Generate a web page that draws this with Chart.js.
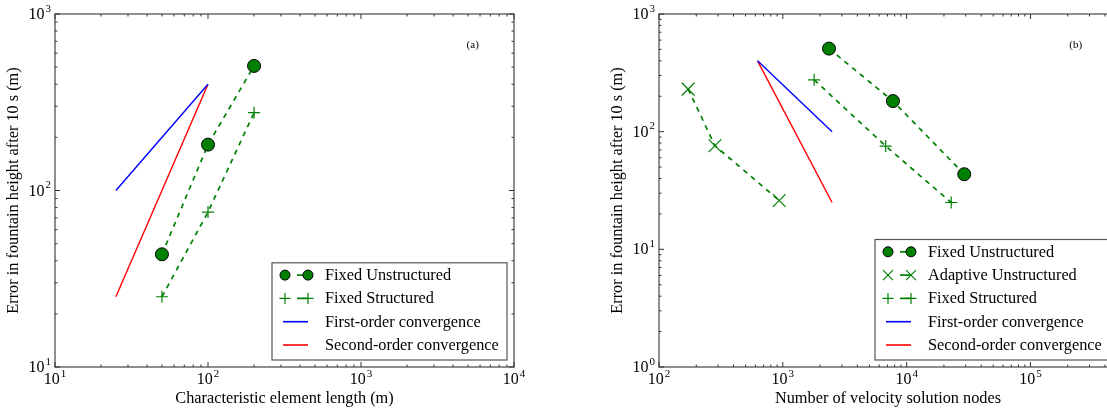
<!DOCTYPE html>
<html lang="en">
<head>
<meta charset="UTF-8">
<title>Fountain height error convergence</title>
<script src="https://cdn.jsdelivr.net/npm/chart.js"></script>
<style>
    html, body { margin: 0; padding: 0; background: #fff; overflow: hidden; }
    #wrap { position: relative; width: 1107px; height: 408px; overflow: hidden; }
    canvas { position: absolute; top: 0; }
    #panelA { left: 0; }
    #panelB { left: 560px; }
</style>
</head>
<body>
<div id="wrap">
    <canvas id="panelA" width="560" height="408"></canvas>
    <canvas id="panelB" width="570" height="408"></canvas>
</div>
<script>
// ---- panel (a): error vs characteristic element length ----
const lengthA = [50, 100, 200];
const fixedUnstructuredA = [43.5, 182, 508];
const fixedStructuredA = [25, 75.5, 276];
const refLengthA = [25, 100];
const firstOrderA = [100, 400];
const secondOrderA = [25, 400];
const xTicksA = [10, 100, 1000, 10000];
const yTicksA = [10, 100, 1000];

// ---- panel (b): error vs number of velocity nodes ----
const nodesUnstructuredB = [2360, 7750, 29200];
const fixedUnstructuredB = [508, 182, 43.5];
const nodesAdaptiveB = [172, 283, 935];
const adaptiveUnstructuredB = [230, 76, 26];
const nodesStructuredB = [1790, 6770, 22900];
const fixedStructuredB = [276, 75.5, 25];
const refNodesB = [625, 2500];
const firstOrderB = [400, 100];
const secondOrderB = [400, 25];
const xTicksB = [100, 1000, 10000, 100000];
const yTicksB = [1, 10, 100, 1000];

const SERIF = '"Liberation Serif", "DejaVu Serif", serif';
const GREEN = '#008000';
const TEXT_PX = 16.3;

function pts(xs, ys) {
    return xs.map((x, i) => ({ x: x, y: ys[i] }));
}

function markerSeries(label, xs, ys, style) {
    const ds = {
        label: label,
        data: pts(xs, ys),
        showLine: true,
        borderColor: GREEN,
        borderWidth: 1.7,
        borderDash: [5, 5],
        pointStyle: style,
        pointBorderColor: GREEN,
        pointBackgroundColor: GREEN,
        pointBorderWidth: 1.2,
        pointRadius: 6
    };
    if (style === 'circle') {
        ds.pointRadius = 6.5;
        ds.pointBorderColor = '#000';
        ds.pointBorderWidth = 1;
    }
    if (style === 'crossRot') ds.pointRadius = 9;
    return ds;
}

function refSeries(label, xs, ys, color) {
    return {
        label: label,
        data: pts(xs, ys),
        showLine: true,
        borderColor: color,
        borderWidth: 1.4,
        pointRadius: 0
    };
}

function drawMarker(ctx, style, x, y, r) {
    ctx.save();
    ctx.beginPath();
    if (style === 'circle') {
        ctx.arc(x, y, r, 0, Math.PI * 2);
        ctx.fillStyle = GREEN;
        ctx.fill();
        ctx.strokeStyle = '#000';
        ctx.lineWidth = 1;
        ctx.stroke();
    } else {
        const d = style === 'crossRot' ? r * Math.SQRT1_2 : r;
        if (style === 'crossRot') {
            ctx.moveTo(x - d, y - d); ctx.lineTo(x + d, y + d);
            ctx.moveTo(x - d, y + d); ctx.lineTo(x + d, y - d);
        } else {
            ctx.moveTo(x - d, y); ctx.lineTo(x + d, y);
            ctx.moveTo(x, y - d); ctx.lineTo(x, y + d);
        }
        ctx.strokeStyle = GREEN;
        ctx.lineWidth = 1.2;
        ctx.stroke();
    }
    ctx.restore();
}

// draws "10" with a raised exponent, like matplotlib's log tick labels
function drawPower(ctx, value, x, y, align) {
    const exp = String(Math.round(Math.log10(value)));
    ctx.font = '16px ' + SERIF;
    const wBase = ctx.measureText('10').width;
    ctx.font = '11px ' + SERIF;
    const wExp = ctx.measureText(exp).width;
    const total = wBase + 1 + wExp;
    let left = x;
    if (align === 'center') left = x - total / 2;
    if (align === 'right') left = x - total;
    ctx.fillStyle = '#000';
    ctx.textAlign = 'left';
    ctx.textBaseline = 'alphabetic';
    ctx.font = '16px ' + SERIF;
    ctx.fillText('10', left, y);
    ctx.font = '11px ' + SERIF;
    ctx.fillText(exp, left + wBase + 1, y - 7.5);
}

function minorValues(min, max) {
    const out = [];
    for (let d = Math.floor(Math.log10(min)); d <= Math.ceil(Math.log10(max)); d++) {
        for (let m = 2; m <= 9; m++) {
            const v = m * Math.pow(10, d);
            if (v > min && v < max) out.push(v);
        }
    }
    return out;
}

function decorPlugin(decor) {
    return {
        id: 'paperDecor',
        afterDatasetsDraw(chart) {
            const ctx = chart.ctx;
            const a = chart.chartArea;
            const xs = chart.scales.x, ys = chart.scales.y;
            ctx.save();

            // frame
            ctx.strokeStyle = '#444';
            ctx.lineWidth = 1.2;
            ctx.strokeRect(a.left, a.top, a.right - a.left, a.bottom - a.top);

            // inward ticks on all four sides
            ctx.lineWidth = 1;
            ctx.strokeStyle = '#333';
            const tickX = (v, len) => {
                const px = xs.getPixelForValue(v);
                ctx.beginPath();
                ctx.moveTo(px, a.bottom); ctx.lineTo(px, a.bottom - len);
                ctx.moveTo(px, a.top); ctx.lineTo(px, a.top + len);
                ctx.stroke();
            };
            const tickY = (v, len) => {
                const py = ys.getPixelForValue(v);
                ctx.beginPath();
                ctx.moveTo(a.left, py); ctx.lineTo(a.left + len, py);
                ctx.moveTo(a.right, py); ctx.lineTo(a.right - len, py);
                ctx.stroke();
            };
            decor.xTicks.forEach(v => tickX(v, 5));
            decor.yTicks.forEach(v => tickY(v, 5));
            minorValues(xs.min, xs.max).forEach(v => tickX(v, 2.5));
            minorValues(ys.min, ys.max).forEach(v => tickY(v, 2.5));

            // tick labels
            decor.xTicks.forEach(v => drawPower(ctx, v, xs.getPixelForValue(v), a.bottom + 17, 'center'));
            decor.yTicks.forEach(v => drawPower(ctx, v, a.left - 4, ys.getPixelForValue(v) + 5, 'right'));

            // axis titles
            ctx.fillStyle = '#000';
            ctx.font = TEXT_PX + 'px ' + SERIF;
            ctx.textAlign = 'center';
            ctx.textBaseline = 'alphabetic';
            ctx.fillText(decor.xTitle, (a.left + a.right) / 2, a.bottom + 36);
            ctx.save();
            ctx.translate(a.left - 41, (a.top + a.bottom) / 2);
            ctx.rotate(-Math.PI / 2);
            ctx.textBaseline = 'middle';
            ctx.fillText(decor.yTitle, 0, 0);
            ctx.restore();

            // panel tag
            ctx.font = '11px ' + SERIF;
            ctx.textBaseline = 'middle';
            ctx.fillText(decor.tag, a.left + 0.91 * (a.right - a.left), a.top + 31);

            // legend, lower right inside the axes
            const items = chart.data.datasets;
            const w = 235, rowH = 23.3;
            const h = 12.3 + (items.length - 1) * rowH + 15;
            const left = a.right - 7 - w, top = a.bottom - 7 - h;
            ctx.fillStyle = '#fff';
            ctx.fillRect(left, top, w, h);
            ctx.strokeStyle = '#555';
            ctx.lineWidth = 1.2;
            ctx.strokeRect(left, top, w, h);
            items.forEach((ds, i) => {
                const y = top + 12.3 + i * rowH;
                const m1 = left + 13, m2 = left + 36;
                ctx.beginPath();
                ctx.strokeStyle = ds.borderColor;
                if (ds.pointRadius > 0) {
                    ctx.lineWidth = 1.7;
                    ctx.moveTo(m2 - 11, y); ctx.lineTo(m2, y);
                    ctx.stroke();
                    const r = ds.pointStyle === 'circle' ? 5 : (ds.pointStyle === 'crossRot' ? 7 : 5.5);
                    drawMarker(ctx, ds.pointStyle, m1, y, r);
                    drawMarker(ctx, ds.pointStyle, m2, y, r);
                } else {
                    ctx.lineWidth = 1.6;
                    ctx.moveTo(m1 - 2, y); ctx.lineTo(m2, y);
                    ctx.stroke();
                }
                ctx.fillStyle = '#000';
                ctx.font = TEXT_PX + 'px ' + SERIF;
                ctx.textAlign = 'left';
                ctx.textBaseline = 'alphabetic';
                ctx.fillText(ds.label, left + 53, y + 5);
            });

            ctx.restore();
        }
    };
}

function makeChart(id, datasets, decor, padding) {
    return new Chart(document.getElementById(id), {
        type: 'scatter',
        data: { datasets: datasets },
        options: {
            responsive: false,
            animation: false,
            events: [],
            layout: { padding: padding },
            plugins: { legend: { display: false }, tooltip: { enabled: false } },
            scales: {
                x: { type: 'logarithmic', min: decor.xMin, max: decor.xMax, display: false },
                y: { type: 'logarithmic', min: decor.yMin, max: decor.yMax, display: false }
            }
        },
        plugins: [decorPlugin(decor)]
    });
}

makeChart('panelA', [
    markerSeries('Fixed Unstructured', lengthA, fixedUnstructuredA, 'circle'),
    markerSeries('Fixed Structured', lengthA, fixedStructuredA, 'cross'),
    refSeries('First-order convergence', refLengthA, firstOrderA, '#0000ff'),
    refSeries('Second-order convergence', refLengthA, secondOrderA, '#ff0000')
], {
    xMin: 10, xMax: 10000, yMin: 10, yMax: 1000,
    xTicks: xTicksA, yTicks: yTicksA,
    xTitle: 'Characteristic element length (m)',
    yTitle: 'Error in fountain height after 10 s (m)',
    tag: '(a)'
}, { left: 55, right: 46, top: 14, bottom: 41 });

makeChart('panelB', [
    markerSeries('Fixed Unstructured', nodesUnstructuredB, fixedUnstructuredB, 'circle'),
    markerSeries('Adaptive Unstructured', nodesAdaptiveB, adaptiveUnstructuredB, 'crossRot'),
    markerSeries('Fixed Structured', nodesStructuredB, fixedStructuredB, 'cross'),
    refSeries('First-order convergence', refNodesB, firstOrderB, '#0000ff'),
    refSeries('Second-order convergence', refNodesB, secondOrderB, '#ff0000')
], {
    xMin: 100, xMax: 500000, yMin: 1, yMax: 1000,
    xTicks: xTicksB, yTicks: yTicksB,
    xTitle: 'Number of velocity solution nodes',
    yTitle: 'Error in fountain height after 10 s (m)',
    tag: '(b)'
}, { left: 99, right: 13, top: 14, bottom: 41 });
</script>
</body>
</html>
